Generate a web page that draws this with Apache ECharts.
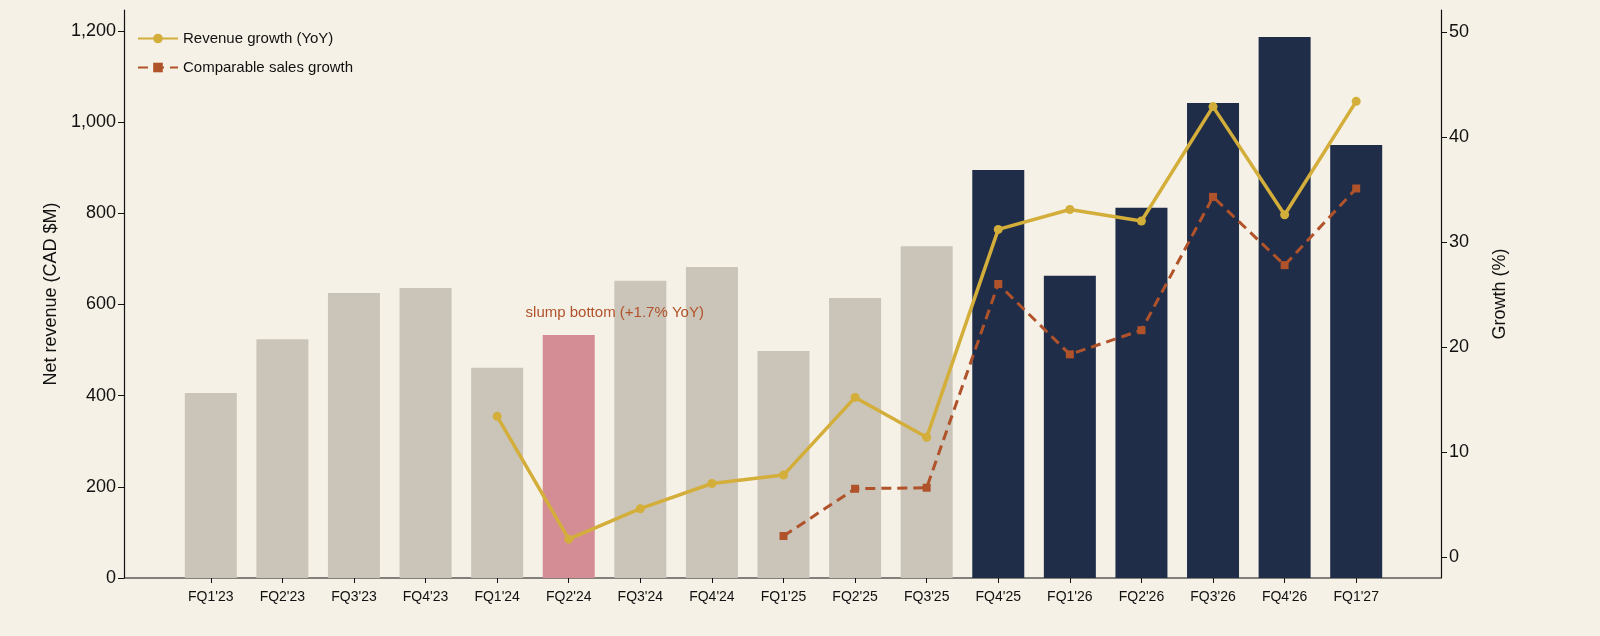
<!DOCTYPE html>
<html><head><meta charset="utf-8">
<script src="https://cdn.jsdelivr.net/npm/echarts@6/dist/echarts.min.js"></script>
<style>html,body{margin:0;padding:0;background:#f5f1e6}#c{width:1600px;height:636px}</style>
</head><body><div id="c"></div>
<script>
const categories=["FQ1'23","FQ2'23","FQ3'23","FQ4'23","FQ1'24","FQ2'24","FQ3'24","FQ4'24","FQ1'25","FQ2'25","FQ3'25","FQ4'25","FQ1'26","FQ2'26","FQ3'26","FQ4'26","FQ1'27"];
const revenue=[406,524,625,636,461,533,652,682,498,614,728,895,663,812,1042,1187,950];
const revenueGrowth=[null,null,null,null,13.4,1.7,4.6,7.0,7.8,15.2,11.4,31.2,33.1,32.0,42.9,32.6,43.4];
const compGrowth=[null,null,null,null,null,null,null,null,2.0,6.5,6.6,26.0,19.3,21.6,34.3,27.8,35.1];
const leftTicks=[0,200,400,600,800,1000,1200];
const rightTicks=[0,10,20,30,40,50];
const font='"Liberation Sans", Arial, sans-serif';
const ch=echarts.init(document.getElementById('c'));
const barData=revenue.map((v,i)=>{
  let c=i<5||(i>5&&i<11)?'#cbc5b9':(i===5?'#d48c95':'#1f2d48');
  const o={value:v,itemStyle:{color:c}};
  if(i===5)o.label={show:true,position:'top',formatter:'slump bottom (+1.7% YoY)',color:'#b0522a',fontSize:15,fontFamily:font,offset:[46,-10]};
  return o;
});
ch.setOption({
  backgroundColor:'#f5f1e6',
  textStyle:{fontFamily:font},
  animation:false,
  grid:{left:175,right:208,top:10,bottom:58},
  legend:{left:132,top:26,orient:'vertical',itemGap:14,itemWidth:40,itemHeight:12,textStyle:{fontSize:15,color:'#111',fontFamily:font},
    data:[{name:'Revenue growth (YoY)'},{name:'Comparable sales growth'}]},
  graphic:[{type:'line',shape:{x1:124,y1:578,x2:1441,y2:578},style:{stroke:'#111',lineWidth:1.2}}],
  xAxis:{type:'category',data:categories,axisLine:{show:false},axisTick:{show:true,alignWithLabel:true,length:5,lineStyle:{color:'#111'}},
    axisLabel:{fontSize:14,color:'#111',margin:12}},
  yAxis:[
    {type:'value',min:0,max:1246,interval:200,offset:51,splitLine:{show:false},
     axisLine:{show:true,lineStyle:{color:'#111',width:1.2}},axisTick:{show:true,length:6,lineStyle:{color:'#111'}},
     axisLabel:{fontSize:18,color:'#111',customValues:leftTicks},axisTick:{show:true,customValues:leftTicks,length:6,lineStyle:{color:'#111'}},
     name:'Net revenue (CAD $M)',nameLocation:'middle',nameGap:60,nameTextStyle:{fontSize:18,color:'#111'}},
    {type:'value',min:-2,max:52.1,offset:49,splitLine:{show:false},
     axisLine:{show:true,lineStyle:{color:'#111',width:1.2}},
     axisLabel:{fontSize:18,color:'#111',customValues:rightTicks},axisTick:{show:true,customValues:rightTicks,length:6,lineStyle:{color:'#111'}},
     name:'Growth (%)',nameLocation:'middle',nameGap:50,nameTextStyle:{fontSize:18,color:'#111'}}
  ],
  series:[
    {type:'bar',data:barData,barWidth:52,yAxisIndex:0},
    {name:'Revenue growth (YoY)',type:'line',yAxisIndex:1,data:revenueGrowth,symbol:'circle',symbolSize:9,
     lineStyle:{color:'#d4ae3a',width:3.5},itemStyle:{color:'#d4ae3a'},connectNulls:false},
    {name:'Comparable sales growth',type:'line',yAxisIndex:1,data:compGrowth,symbol:'rect',symbolSize:8,
     lineStyle:{color:'#b0522a',width:3,type:[10,6]},itemStyle:{color:'#b0522a'}}
  ]
});
</script></body></html>
